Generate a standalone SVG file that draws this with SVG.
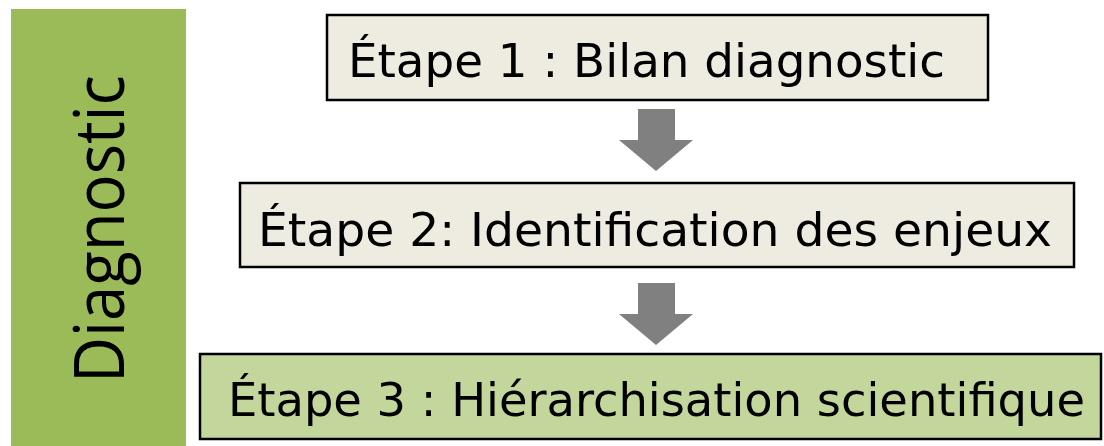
<svg xmlns="http://www.w3.org/2000/svg" width="1104" height="446" viewBox="0 0 1104 446">
<style>
.box{stroke:#000;stroke-width:2.5}
.lbl{font-family:"DejaVu Sans Condensed","DejaVu Sans",sans-serif;font-size:46px;fill:#000}
.arr{fill:#808080}
</style>
<rect width="1104" height="446" fill="#fff"/>
<g id="side">
<rect x="11" y="9" width="175" height="437" fill="#9BBB59"/>
<text transform="translate(124,229) rotate(-90)" text-anchor="middle" font-family="'Open Sans',sans-serif" font-size="70" textLength="308" lengthAdjust="spacingAndGlyphs">Diagnostic</text>
</g>
<g id="step1">
<rect class="box" x="327" y="15" width="661" height="85" fill="#EEECE1"/>
<text class="lbl" x="348" y="77" textLength="597" lengthAdjust="spacingAndGlyphs">Étape 1 : Bilan diagnostic</text>
</g>
<g id="step2">
<rect class="box" x="240" y="183" width="834" height="84" fill="#EEECE1"/>
<text class="lbl" x="258" y="246" textLength="794" lengthAdjust="spacingAndGlyphs">Étape 2: Identification des enjeux</text>
</g>
<g id="step3">
<rect class="box" x="200" y="354" width="901" height="85" fill="#C3D69B"/>
<text class="lbl" x="228" y="416" textLength="857" lengthAdjust="spacingAndGlyphs">Étape 3 : Hiérarchisation scientifique</text>
</g>
<g id="connectors">
<polygon class="arr" points="638,109 675,109 675,140 693,140 656,171 619,140 638,140"/>
<polygon class="arr" points="638,283 675,283 675,314 693,314 656,345 619,314 638,314"/>
</g>
</svg>
